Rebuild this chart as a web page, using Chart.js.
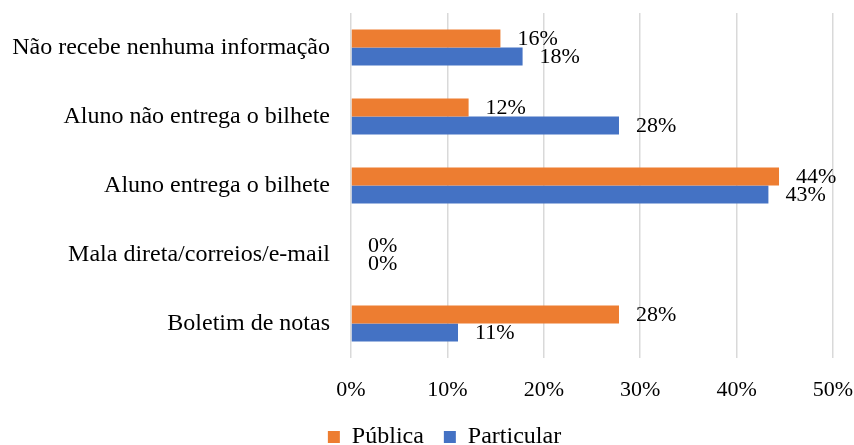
<!DOCTYPE html>
<html>
<head>
<meta charset="utf-8">
<script src="https://cdn.jsdelivr.net/npm/chart.js@4.4.0/dist/chart.umd.min.js"></script>
<style>
  html, body { margin: 0; padding: 0; background: #fff; overflow: hidden; }
  #wrap { width: 854px; height: 459px; position: relative; }
</style>
</head>
<body>
<div id="wrap"><canvas id="myChart"></canvas></div>
<script>
// categories, top to bottom
var categories = [
    "Não recebe nenhuma informação",
    "Aluno não entrega o bilhete",
    "Aluno entrega o bilhete",
    "Mala direta/correios/e-mail",
    "Boletim de notas"
]
// percent values
var publica    = [15.5, 12.2, 44.4, 0, 27.8]
var particular = [17.8, 27.8, 43.3, 0, 11.1]
var xTicks = [0, 10, 20, 30, 40, 50]

var serif = "'Liberation Serif', 'Times New Roman', serif"

// draws the value label right of each bar end
var barLabels = {
    id: 'barLabels',
    afterDatasetsDraw: function(chart){
        var ctx = chart.ctx
        ctx.save()
        ctx.font = '22px ' + serif
        ctx.fillStyle = '#000'
        ctx.textAlign = 'left'
        ctx.textBaseline = 'middle'
        chart.data.datasets.forEach(function(ds, i){
            chart.getDatasetMeta(i).data.forEach(function(bar, j){
                ctx.fillText(Math.round(ds.data[j]) + '%', bar.x + 17, bar.y + 1)
            })
        })
        ctx.restore()
    }
}

// legend sits a bit right of the canvas centre in the original
var legendShift = {
    id: 'legendShift',
    afterLayout: function(chart){
        chart.legend.left += 28
        chart.legend.right += 28
    }
}

var ctx = document.getElementById('myChart')
var myChart = new Chart(ctx, {
    type: 'bar',
    data: {
        labels: categories,
        datasets: [{
            label: 'Pública',
            data: publica,
            backgroundColor: '#ED7D31',
            barPercentage: 1,
            categoryPercentage: 0.52
        }, {
            label: 'Particular',
            data: particular,
            backgroundColor: '#4472C4',
            barPercentage: 1,
            categoryPercentage: 0.52
        }]
    },
    options: {
        indexAxis: 'y',
        responsive: true,
        maintainAspectRatio: false,
        animation: false,
        layout: { padding: { top: 13, right: 21, left: 0, bottom: 0 } },
        scales: {
            x: {
                min: 0,
                max: 50,
                afterBuildTicks: function(scale){
                    scale.ticks = xTicks.map(function(v){ return { value: v } })
                },
                afterFit: function(scale){
                    scale.height = 47
                    scale.paddingLeft = 0
                    scale.paddingRight = 0
                },
                border: { display: false },
                grid: { color: '#d9d9d9', lineWidth: 1.5, drawTicks: false },
                ticks: {
                    padding: 19,
                    color: '#000',
                    font: { family: serif, size: 22 },
                    callback: function(v){ return v + '%' }
                }
            },
            y: {
                afterFit: function(scale){
                    scale.width = 351
                    scale.paddingTop = 0
                    scale.paddingBottom = 0
                },
                border: { display: false },
                grid: { display: false, drawTicks: false },
                ticks: {
                    padding: 21,
                    color: '#000',
                    font: { family: serif, size: 24 }
                }
            }
        },
        plugins: {
            legend: {
                position: 'bottom',
                labels: {
                    boxWidth: 12,
                    boxHeight: 12,
                    padding: 20,
                    color: '#000',
                    font: { family: serif, size: 24 }
                }
            },
            tooltip: { enabled: false }
        }
    },
    plugins: [barLabels, legendShift]
})
</script>
</body>
</html>
